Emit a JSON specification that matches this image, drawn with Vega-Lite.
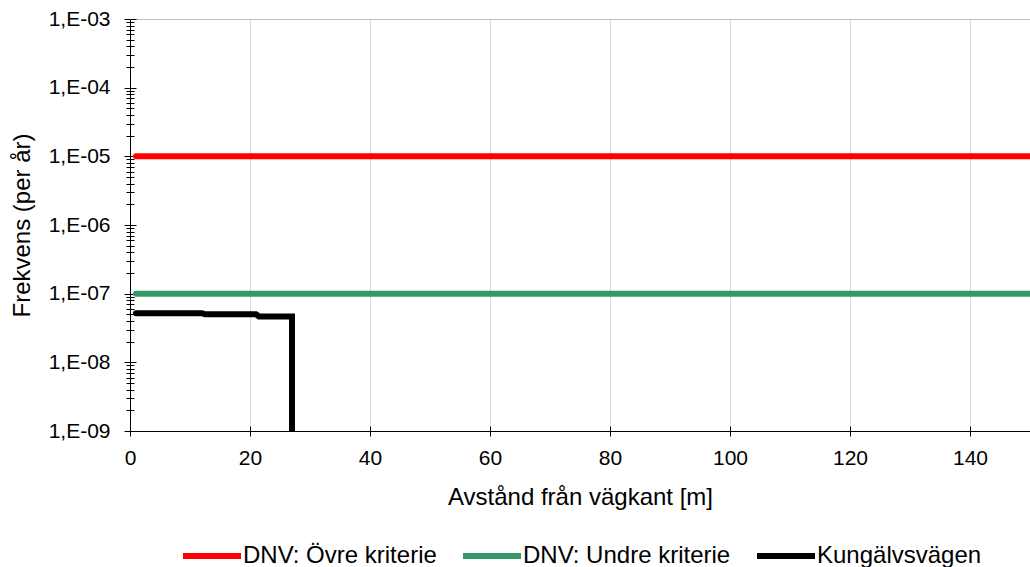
{
  "$schema": "https://vega.github.io/schema/vega-lite/v6.json",
  "width": 900,
  "height": 412,
  "autosize": "none",
  "padding": {"left": 130, "top": 19, "right": 0, "bottom": 136},
  "background": "white",
  "config": {
    "view": {"stroke": null},
    "font": "Liberation Sans",
    "axis": {"labelFont": "Liberation Sans", "titleFont": "Liberation Sans", "labelColor": "#000000", "titleColor": "#000000", "titleFontWeight": "normal", "tickColor": "#000000", "domainColor": "#000000", "labelFontSize": 21, "titleFontSize": 24}
  },
  "data": {
    "values": [
      {"series": "DNV: Övre kriterie", "x": 1, "y": 1e-5, "i": 0},
      {"series": "DNV: Övre kriterie", "x": 150, "y": 1e-5, "i": 1},
      {"series": "DNV: Undre kriterie", "x": 1, "y": 1e-7, "i": 0},
      {"series": "DNV: Undre kriterie", "x": 150, "y": 1e-7, "i": 1},
      {"series": "Kungälvsvägen", "x": 1, "y": 5.2e-8, "i": 0},
      {"series": "Kungälvsvägen", "x": 12, "y": 5.2e-8, "i": 1},
      {"series": "Kungälvsvägen", "x": 12.5, "y": 5.0e-8, "i": 2},
      {"series": "Kungälvsvägen", "x": 21, "y": 5.0e-8, "i": 3},
      {"series": "Kungälvsvägen", "x": 21.5, "y": 4.65e-8, "i": 4},
      {"series": "Kungälvsvägen", "x": 27, "y": 4.65e-8, "i": 5},
      {"series": "Kungälvsvägen", "x": 27, "y": 1e-9, "i": 6}
    ]
  },
  "resolve": {"axis": {"x": "independent", "y": "independent"}},
  "layer": [
    {
      "mark": {"type": "line", "strokeWidth": 6, "strokeJoin": "miter", "strokeCap": "round", "clip": true},
      "encoding": {
        "x": {"field": "x", "type": "quantitative", "scale": {"domain": [0, 150], "nice": false, "zero": false},
          "axis": {"orient": "bottom", "title": "Avstånd från vägkant [m]", "values": [0, 20, 40, 60, 80, 100, 120, 140], "tickSize": 5, "labelPadding": 11, "titlePadding": 17, "grid": true, "gridColor": "#d9d9d9", "gridWidth": 1, "domainWidth": 1, "labelFlush": false}},
        "y": {"field": "y", "type": "quantitative", "scale": {"type": "log", "domain": [1e-9, 1e-3], "nice": false},
          "axis": {"orient": "left", "title": "Frekvens (per år)", "values": [1e-9, 1e-8, 1e-7, 1e-6, 1e-5, 1e-4, 1e-3], "labelExpr": "'1,E-0' + round(-log(datum.value)/LN10)", "tickSize": 6, "labelPadding": 14, "titlePadding": 14, "grid": true, "gridColor": {"condition": {"test": "datum.value >= 0.00099", "value": "#bfbfbf"}, "value": "transparent"}, "labelFlush": false, "domainWidth": 1}},
        "color": {"field": "series", "type": "nominal",
          "scale": {"domain": ["DNV: Övre kriterie", "DNV: Undre kriterie", "Kungälvsvägen"], "range": ["#ff0000", "#339966", "#000000"]},
          "legend": {"title": null, "orient": "none", "direction": "horizontal", "legendX": 50, "legendY": 505, "padding": 0, "symbolType": "stroke", "symbolSize": 3364, "symbolStrokeWidth": 6, "labelFontSize": 24, "labelFont": "Liberation Sans", "labelColor": "#000000", "labelOffset": -1, "columnPadding": 14, "labelLimit": 400}},
        "order": {"field": "i", "type": "quantitative"}
      }
    },
    {
      "mark": {"type": "line", "opacity": 0},
      "encoding": {
        "x": {"field": "x", "type": "quantitative",
          "axis": {"orient": "bottom", "title": null, "values": [0, 20, 40, 60, 80, 100, 120, 140], "tickSize": -5, "labels": false, "domain": false, "grid": false}},
        "y": {"field": "y", "type": "quantitative",
          "axis": {"orient": "left", "title": null, "values": [1e-9, 1e-8, 1e-7, 1e-6, 1e-5, 1e-4, 1e-3], "tickSize": -6, "labels": false, "domain": false, "grid": false}},
        "detail": {"field": "series"},
        "order": {"field": "i", "type": "quantitative"}
      }
    },
    {
      "mark": {"type": "line", "opacity": 0},
      "encoding": {
        "x": {"field": "x", "type": "quantitative", "axis": null},
        "y": {"field": "y", "type": "quantitative",
          "axis": {"orient": "left", "title": null, "values": [2e-9, 3e-9, 4e-9, 5e-9, 6e-9, 7e-9, 8e-9, 9e-9, 2e-8, 3e-8, 4e-8, 5e-8, 6e-8, 7e-8, 8e-8, 9e-8, 2e-7, 3e-7, 4e-7, 5e-7, 6e-7, 7e-7, 8e-7, 9e-7, 2e-6, 3e-6, 4e-6, 5e-6, 6e-6, 7e-6, 8e-6, 9e-6, 2e-5, 3e-5, 4e-5, 5e-5, 6e-5, 7e-5, 8e-5, 9e-5, 2e-4, 3e-4, 4e-4, 5e-4, 6e-4, 7e-4, 8e-4, 9e-4], "tickSize": 4, "labels": false, "domain": false, "grid": false}},
        "detail": {"field": "series"},
        "order": {"field": "i", "type": "quantitative"}
      }
    },
    {
      "mark": {"type": "line", "opacity": 0},
      "encoding": {
        "x": {"field": "x", "type": "quantitative", "axis": null},
        "y": {"field": "y", "type": "quantitative",
          "axis": {"orient": "left", "title": null, "values": [2e-9, 3e-9, 4e-9, 5e-9, 6e-9, 7e-9, 8e-9, 9e-9, 2e-8, 3e-8, 4e-8, 5e-8, 6e-8, 7e-8, 8e-8, 9e-8, 2e-7, 3e-7, 4e-7, 5e-7, 6e-7, 7e-7, 8e-7, 9e-7, 2e-6, 3e-6, 4e-6, 5e-6, 6e-6, 7e-6, 8e-6, 9e-6, 2e-5, 3e-5, 4e-5, 5e-5, 6e-5, 7e-5, 8e-5, 9e-5, 2e-4, 3e-4, 4e-4, 5e-4, 6e-4, 7e-4, 8e-4, 9e-4], "tickSize": -4, "labels": false, "domain": false, "grid": false}},
        "detail": {"field": "series"},
        "order": {"field": "i", "type": "quantitative"}
      }
    }
  ]
}
